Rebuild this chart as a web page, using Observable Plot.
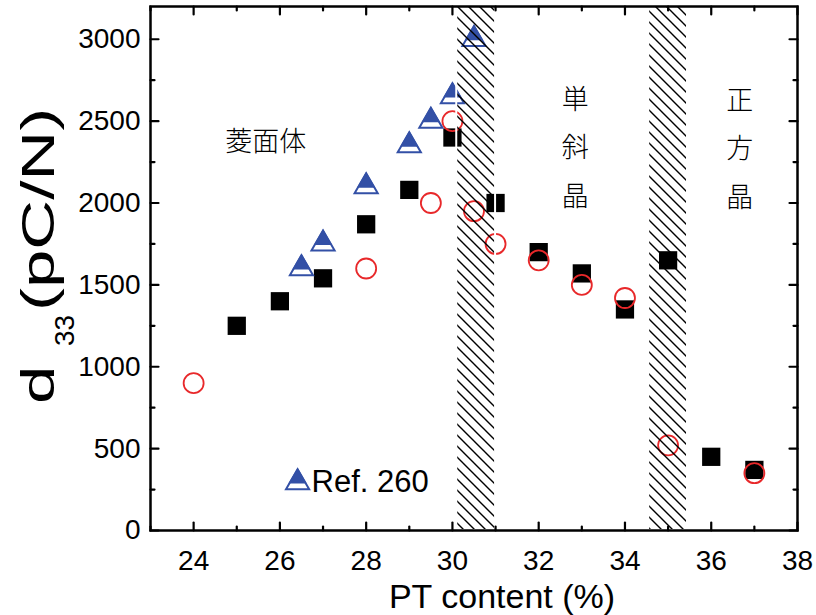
<!DOCTYPE html>
<html><head><meta charset="utf-8">
<script src="https://cdn.jsdelivr.net/npm/d3@7"></script>
<script src="https://cdn.jsdelivr.net/npm/@observablehq/plot@0.6"></script>
<style>body{margin:0;background:#fff}</style>
</head><body><div id="chart"></div>
<script>
// data
const squareX = [25, 26, 27, 28, 29, 30, 31, 32, 33, 34, 35, 36, 37];
const squareY = [1250, 1400, 1540, 1870, 2080, 2400, 2000, 1700, 1570, 1350, 1650, 450, 370];
const circleX = [24, 28, 29.5, 30, 30.5, 31, 32, 33, 34, 35, 37];
const circleY = [900, 1600, 2000, 2500, 1950, 1750, 1650, 1500, 1420, 520, 350];
const triX = [26.5, 27, 28, 29, 29.5, 30, 30.5];
const triY = [1600, 1750, 2100, 2350, 2500, 2650, 3000];
const hatchX1 = [30.1, 34.55];
const hatchX2 = [31, 35.45];
const xMajor = [24, 26, 28, 30, 32, 34, 36, 38];
const xMinor = [23, 25, 27, 29, 31, 33, 35, 37];
const yMajor = [0, 500, 1000, 1500, 2000, 2500, 3000];
const yMinor = [250, 750, 1250, 1750, 2250, 2750];
const phaseLabels = ["菱面体", "単\n斜\n晶", "正\n方\n晶"];
const phaseX = [25.67, 32.85, 36.66];
const phaseY = [2411, 2375, 2369];
const legendLabel = ["Ref. 260"];
const legendX = [26.41];
const legendY = [293];
const xLabel = "PT content (%)";

const squares = squareX.map((x, i) => ({x, y: squareY[i]}));
const circles = circleX.map((x, i) => ({x, y: circleY[i]}));
const tris = triX.map((x, i) => ({x, y: triY[i]}));
const hatches = hatchX1.map((x1, i) => ({x1, x2: hatchX2[i]}));
const phases = phaseLabels.map((t, i) => ({t, x: phaseX[i], y: phaseY[i]}));
const legend = legendLabel.map((t, i) => ({t, x: legendX[i], y: legendY[i]}));

const BLUE = "#3350a6", RED = "#e8282a";
const tickShape = {draw(ctx, l) { ctx.moveTo(0, 0); ctx.lineTo(0, -l); }};
const TR = 8.6, K = 0.68;
const triDy = -2 * 0.7776 * TR * (1 - K);

const svg = Plot.plot({
  width: 816, height: 615,
  marginLeft: 150, marginRight: 19, marginTop: 6, marginBottom: 85,
  style: {fontFamily: "'Liberation Sans', Arial, sans-serif", background: "#fff", color: "#000"},
  x: {domain: [23, 38], axis: null},
  y: {domain: [0, 3200], axis: null},
  marks: [
    Plot.dot(squares, {x: "x", y: "y", symbol: "square", r: 10.3, fill: "#000"}),
    Plot.dot(circles, {x: "x", y: "y", symbol: "circle", r: 10, stroke: RED, strokeWidth: 1.8, fill: "none"}),
    Plot.dot(tris, {x: "x", y: "y", symbol: "triangle", r: TR, stroke: BLUE, strokeWidth: 2, fill: "#fff"}),
    Plot.dot(tris, {x: "x", y: "y", symbol: "triangle", r: TR * K, dy: triDy, stroke: BLUE, strokeWidth: 1.5, fill: BLUE}),
    Plot.dot(legend, {x: "x", y: "y", symbol: "triangle", r: TR, stroke: BLUE, strokeWidth: 2, fill: "#fff"}),
    Plot.dot(legend, {x: "x", y: "y", symbol: "triangle", r: TR * K, dy: triDy, stroke: BLUE, strokeWidth: 1.5, fill: BLUE}),
    Plot.text(legend, {x: "x", y: "y", text: "t", dx: 14, textAnchor: "start", fontSize: 31}),
    Plot.rect(hatches, {x1: "x1", x2: "x2", fill: "url(#hatch)", stroke: "#fff", strokeWidth: 2}),
    Plot.text(phases, {x: "x", y: "y", text: "t", fontSize: 27, lineHeight: 1.8, lineAnchor: "middle",
      fontFamily: "'Noto Sans CJK JP', sans-serif", fontWeight: 300}),
    // ticks (inward)
    Plot.vector(xMajor, {x: d => d, frameAnchor: "bottom", length: 8, anchor: "start", rotate: 0, shape: tickShape, strokeWidth: 2.2}),
    Plot.vector(xMinor, {x: d => d, frameAnchor: "bottom", length: 4, anchor: "start", rotate: 0, shape: tickShape, strokeWidth: 2.2}),
    Plot.vector(xMajor, {x: d => d, frameAnchor: "top", length: 8, anchor: "start", rotate: 180, shape: tickShape, strokeWidth: 2.2}),
    Plot.vector(xMinor, {x: d => d, frameAnchor: "top", length: 4, anchor: "start", rotate: 180, shape: tickShape, strokeWidth: 2.2}),
    Plot.vector(yMajor, {y: d => d, frameAnchor: "left", length: 8, anchor: "start", rotate: 90, shape: tickShape, strokeWidth: 2.2}),
    Plot.vector(yMinor, {y: d => d, frameAnchor: "left", length: 4, anchor: "start", rotate: 90, shape: tickShape, strokeWidth: 2.2}),
    Plot.vector(yMajor, {y: d => d, frameAnchor: "right", length: 8, anchor: "start", rotate: -90, shape: tickShape, strokeWidth: 2.2}),
    Plot.vector(yMinor, {y: d => d, frameAnchor: "right", length: 4, anchor: "start", rotate: -90, shape: tickShape, strokeWidth: 2.2}),
    Plot.axisX(xMajor, {anchor: "bottom", tickSize: 0, tickPadding: 20, fontSize: 28, label: null, tickFormat: d3.format("d")}),
    Plot.axisY(yMajor, {anchor: "left", tickSize: 0, tickPadding: 10, fontSize: 28, label: null, tickFormat: d3.format("d")}),
    Plot.text([xLabel], {frameAnchor: "bottom", text: d => d, dx: 28, dy: 67, lineAnchor: "middle", fontSize: 34}),
    Plot.frame({stroke: "#000", strokeWidth: 2.5})
  ]
});

// hatch pattern definition
const sel = d3.select(svg);
const pat = sel.insert("defs", ":first-child").append("pattern")
  .attr("id", "hatch").attr("patternUnits", "userSpaceOnUse").attr("width", 11).attr("height", 11);
pat.append("path").attr("d", "M0,0L11,11M-1,10L1,12M10,-1L12,1")
  .attr("stroke", "#000").attr("stroke-width", 1.4).attr("fill", "none");

// y axis title with subscript
const ff = "'Liberation Sans', Arial, sans-serif";
sel.append("text").attr("transform", "translate(54,404) rotate(-90) scale(1.5,1)")
  .attr("font-family", ff).attr("font-size", 46).attr("text-anchor", "start").text("d");
sel.append("text").attr("transform", "translate(74,346) rotate(-90)")
  .attr("font-family", ff).attr("font-size", 28).attr("text-anchor", "start").text("33");
sel.append("text").attr("transform", "translate(54,311) rotate(-90) scale(1.5,1)")
  .attr("font-family", ff).attr("font-size", 46).attr("text-anchor", "start").text("(pC/N)");

document.getElementById("chart").appendChild(svg);
</script>
</body></html>
